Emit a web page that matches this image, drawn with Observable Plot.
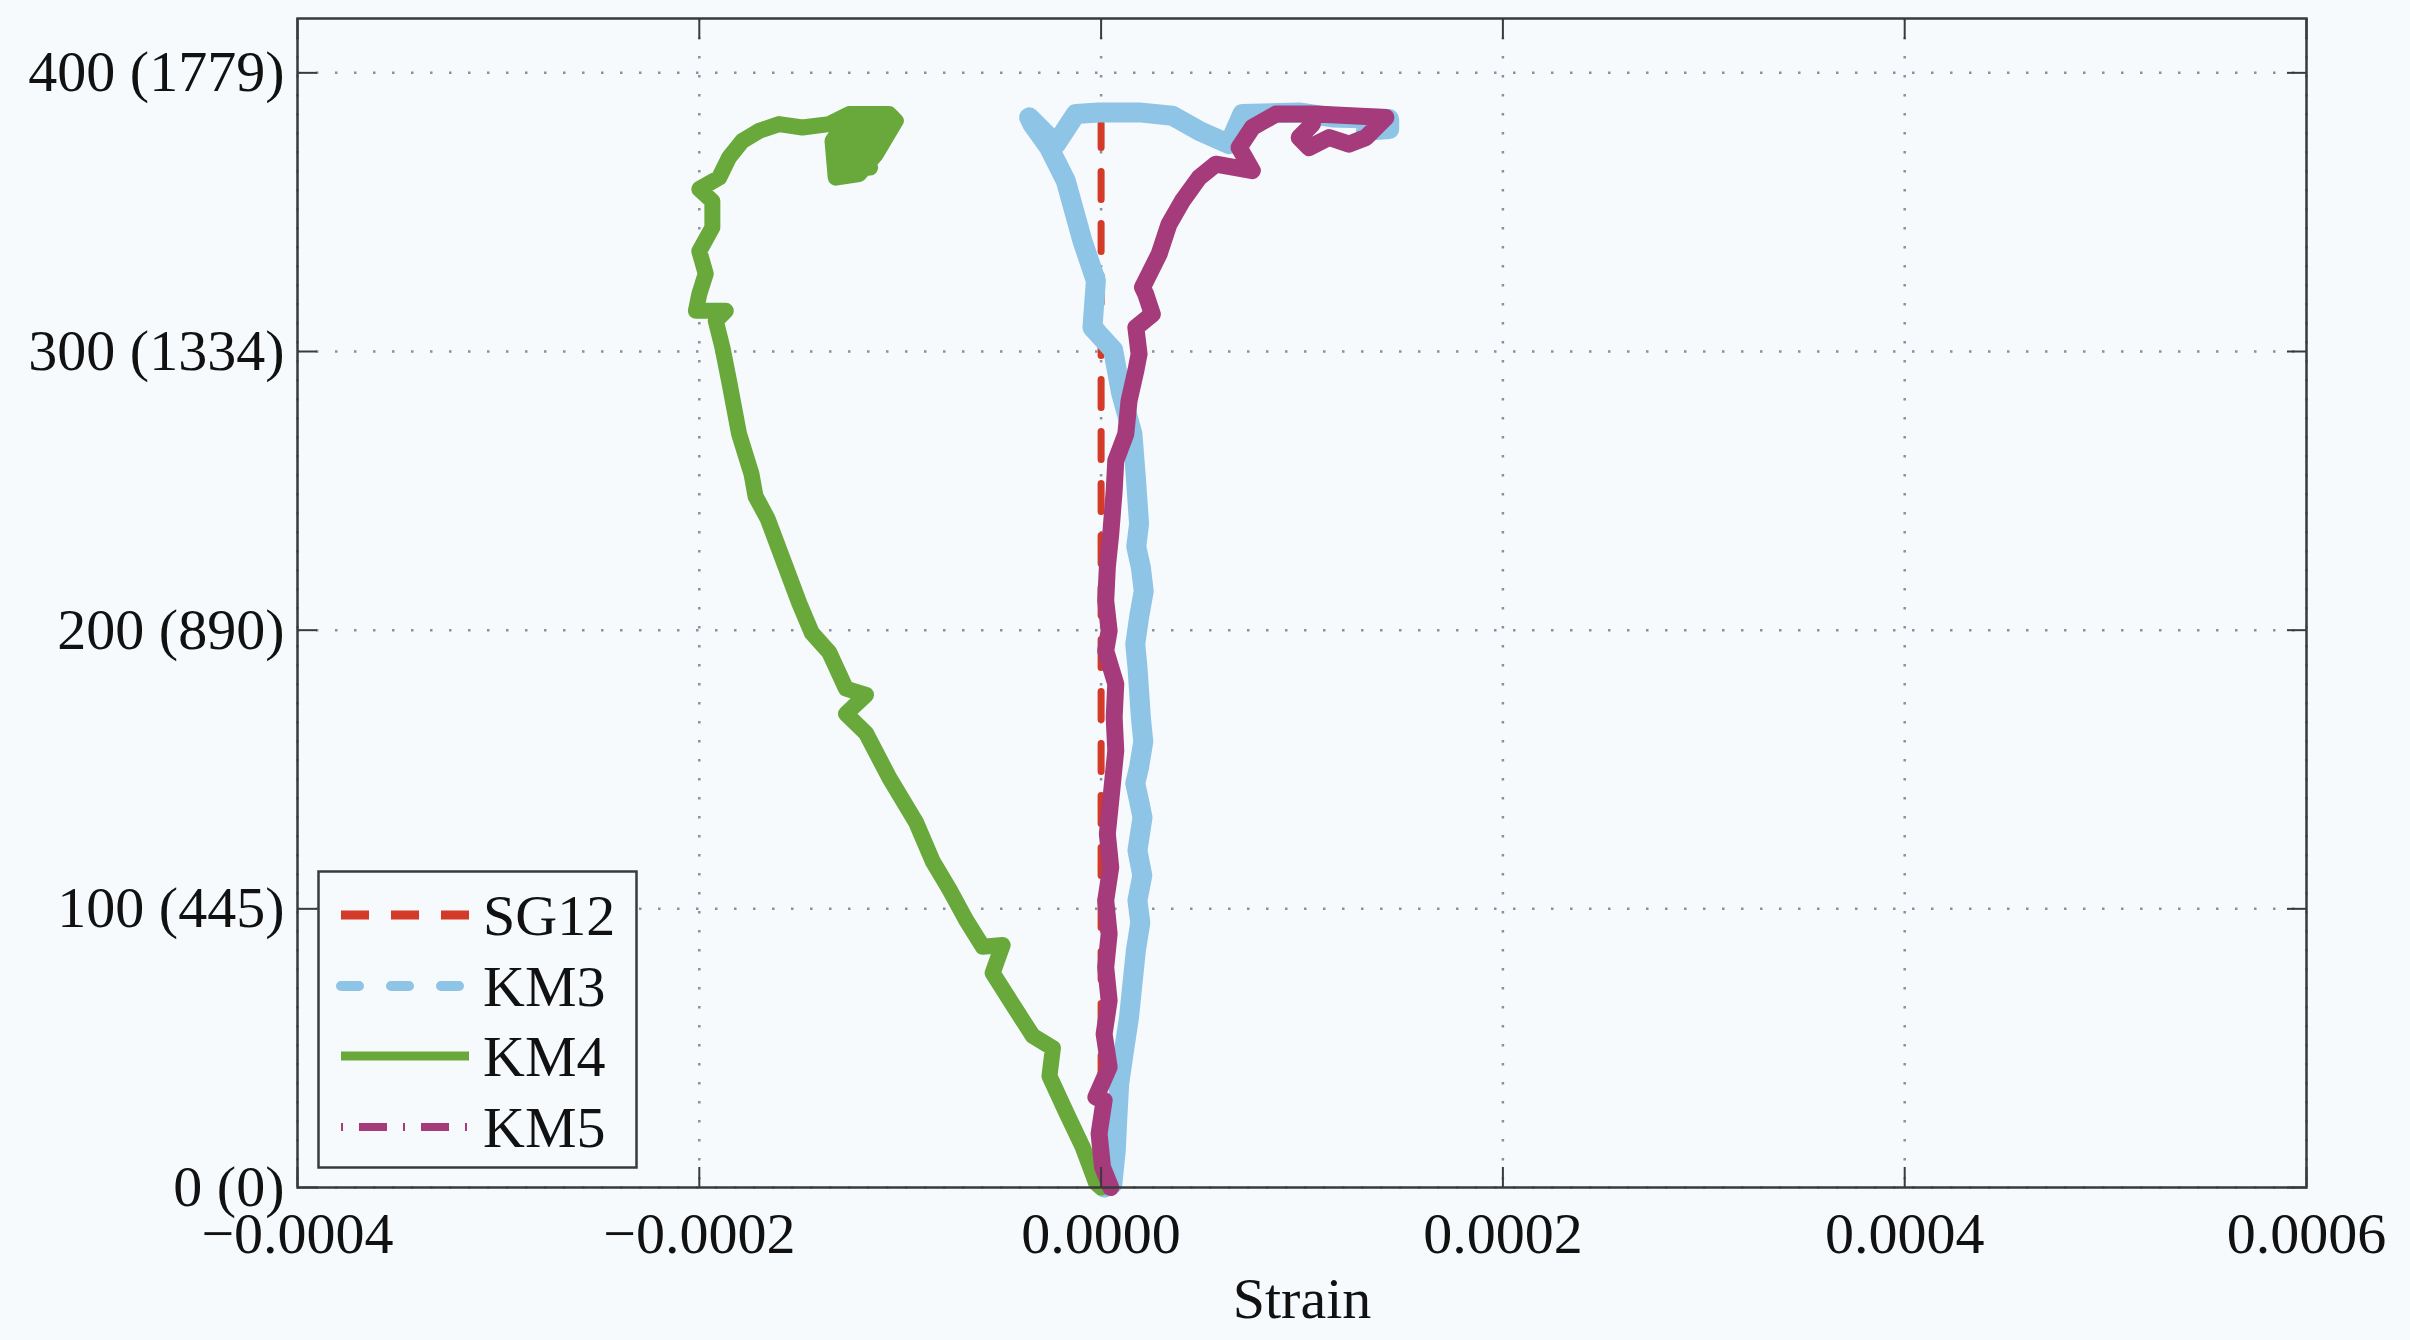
<!DOCTYPE html>
<html>
<head>
<meta charset="utf-8">
<script src="https://cdn.jsdelivr.net/npm/d3@7"></script>
<script src="https://cdn.jsdelivr.net/npm/@observablehq/plot@0.6"></script>
<style>
html, body { margin: 0; padding: 0; background: #f7fafc; }
#chart { position: relative; width: 2410px; height: 1340px; }
#legend { position: absolute; left: 317px; top: 870px; }
</style>
</head>
<body>
<div id="chart"></div>
<script>
// ---- Data (strain, load in kips) ----
const xTicks = [-0.0004, -0.0002, 0, 0.0002, 0.0004, 0.0006];
const yTicks = [0, 100, 200, 300, 400];
const yTickLabels = ["0 (0)", "100 (445)", "200 (890)", "300 (1334)", "400 (1779)"];
const seriesNames = ["SG12", "KM3", "KM4", "KM5"];

const sg12 = [[0, 0], [0, 100], [0, 200], [0, 300], [0, 381.7]];

const km3 = [
  [0.015e-4, 0], [0.056e-4, 1.3], [0.073e-4, 13.3], [0.081e-4, 25.2], [0.09e-4, 37.2],
  [0.114e-4, 49.1], [0.139e-4, 61.1], [0.156e-4, 73.1], [0.173e-4, 85], [0.195e-4, 95],
  [0.181e-4, 103], [0.205e-4, 112], [0.181e-4, 120.9], [0.206e-4, 132.8], [0.189e-4, 138.8],
  [0.17e-4, 145], [0.189e-4, 150.8], [0.21e-4, 160], [0.198e-4, 168.7], [0.181e-4, 186.7],
  [0.17e-4, 195], [0.189e-4, 204.6], [0.212e-4, 214], [0.198e-4, 222.5], [0.175e-4, 230],
  [0.189e-4, 238.1], [0.173e-4, 254.8], [0.156e-4, 270.4], [0.1e-4, 285], [0.06e-4, 300.5],
  [-0.043e-4, 308.6], [-0.026e-4, 325.4], [-0.093e-4, 339.7], [-0.176e-4, 361.3], [-0.259e-4, 373.2],
  [-0.342e-4, 381.6], [-0.358e-4, 384.0], [-0.225e-4, 374.4], [-0.126e-4, 385.2], [-0.01e-4, 385.8],
  [0.189e-4, 385.8], [0.355e-4, 384.6], [0.488e-4, 379.2], [0.637e-4, 374.4], [0.703e-4, 385.2],
  [0.986e-4, 385.8], [1.151e-4, 384.0], [1.434e-4, 383.4], [1.434e-4, 379.8], [1.318e-4, 379.2]
];

const km4 = [
  [0, 0], [-0.025e-4, 1.6], [-0.091e-4, 14.4], [-0.174e-4, 27], [-0.257e-4, 40],
  [-0.24e-4, 50], [-0.34e-4, 54.4], [-0.44e-4, 65.6], [-0.54e-4, 77], [-0.49e-4, 87],
  [-0.589e-4, 86.4], [-0.672e-4, 96], [-0.755e-4, 107], [-0.838e-4, 117], [-0.921e-4, 131],
  [-1.054e-4, 147], [-1.17e-4, 163], [-1.27e-4, 170], [-1.17e-4, 176.8], [-1.27e-4, 179],
  [-1.353e-4, 192], [-1.44e-4, 199], [-1.502e-4, 209.6], [-1.585e-4, 225.6], [-1.66e-4, 240],
  [-1.72e-4, 248], [-1.74e-4, 256], [-1.802e-4, 270.4], [-1.852e-4, 289.5], [-1.885e-4, 301.5],
  [-1.918e-4, 311], [-1.868e-4, 314.6], [-2.017e-4, 314.6], [-2.0e-4, 320.6], [-1.968e-4, 327.9],
  [-2.0e-4, 336], [-1.935e-4, 344.5], [-1.935e-4, 354], [-2.0e-4, 358.3], [-1.901e-4, 362.4],
  [-1.852e-4, 369.6], [-1.785e-4, 375.6], [-1.702e-4, 379.2], [-1.603e-4, 381.6], [-1.487e-4, 380.4],
  [-1.354e-4, 381.6], [-1.254e-4, 385.2], [-1.055e-4, 385.2], [-1.022e-4, 382.8], [-1.121e-4, 370.8],
  [-1.205e-4, 363.7], [-1.321e-4, 362.4], [-1.337e-4, 375.6], [-1.254e-4, 384.0], [-1.30e-4, 368],
  [-1.10e-4, 378], [-1.25e-4, 372], [-1.15e-4, 366], [-1.32e-4, 365], [-1.20e-4, 376],
  [-1.28e-4, 379], [-1.12e-4, 381], [-1.24e-4, 366], [-1.08e-4, 384]
];

const km5 = [
  [0.048e-4, 0], [0.007e-4, 7.3], [-0.01e-4, 19.3], [0.015e-4, 31.2], [-0.026e-4, 32.4],
  [0.04e-4, 43.2], [0.015e-4, 55.1], [0.04e-4, 67.1], [0.023e-4, 79], [0.04e-4, 91],
  [0.023e-4, 103], [0.048e-4, 114.9], [0.031e-4, 126.9], [0.048e-4, 138.8], [0.073e-4, 156.8],
  [0.065e-4, 168.7], [0.073e-4, 180.7], [0.023e-4, 192.6], [0.04e-4, 199.8], [0.023e-4, 210.6],
  [0.031e-4, 222.5], [0.048e-4, 234.5], [0.065e-4, 250], [0.073e-4, 260.8], [0.123e-4, 270.4],
  [0.139e-4, 282.3], [0.173e-4, 293.1], [0.189e-4, 299.1], [0.173e-4, 308.6], [0.255e-4, 313.4],
  [0.222e-4, 320.6], [0.206e-4, 323], [0.289e-4, 335], [0.338e-4, 345.7], [0.405e-4, 354.1],
  [0.488e-4, 362.4], [0.571e-4, 367.2], [0.753e-4, 364.9], [0.687e-4, 373.2], [0.753e-4, 380.4],
  [0.87e-4, 385.2], [1.069e-4, 385.2], [1.418e-4, 384.0], [1.318e-4, 376.8], [1.234e-4, 374.4],
  [1.135e-4, 376.8], [1.035e-4, 373.2], [0.986e-4, 376.8], [1.052e-4, 381.6]
];

// ---- Styles ----
const seriesColors = ["#d33a27", "#8ec4e6", "#69a83b", "#a63b7c"];
const lineWidths = [7, 20, 16, 17];
const fontStack = "'Liberation Serif', 'DejaVu Serif', 'Times New Roman', serif";
const gridStyle = {stroke: "#7f8493", strokeOpacity: 0.9, strokeWidth: 2.5, strokeDasharray: "2.5,16.5"};
const tickStyle = {label: null, tickFormat: () => "", stroke: "#3a3a3a", strokeWidth: 2};

const toRows = (arr) => arr.map(([s, l]) => ({strain: s, load: l}));
const allSeries = [sg12, km3, km4, km5].map(toRows);

const chart = Plot.plot({
  width: 2410,
  height: 1340,
  marginLeft: 297,
  marginRight: 104,
  marginTop: 18,
  marginBottom: 153,
  style: {background: "#f7fafc", fontFamily: fontStack, fontSize: "58px", color: "#111"},
  x: {domain: [-0.0004, 0.0006]},
  y: {domain: [0, 419.5]},
  marks: [
    Plot.gridX(xTicks, gridStyle),
    Plot.gridY(yTicks, gridStyle),
    Plot.line(allSeries[0], {x: "strain", y: "load", stroke: seriesColors[0], strokeWidth: lineWidths[0], strokeDasharray: "28,24"}),
    Plot.line(allSeries[1], {x: "strain", y: "load", stroke: seriesColors[1], strokeWidth: lineWidths[1], strokeLinejoin: "round", strokeLinecap: "round"}),
    Plot.line(allSeries[2], {x: "strain", y: "load", stroke: seriesColors[2], strokeWidth: lineWidths[2], strokeLinejoin: "round", strokeLinecap: "round"}),
    Plot.line(allSeries[3], {x: "strain", y: "load", stroke: seriesColors[3], strokeWidth: lineWidths[3], strokeLinejoin: "round", strokeLinecap: "round"}),
    Plot.frame({stroke: "#3a3a3a", strokeWidth: 2.5}),
    Plot.axisX(xTicks, {anchor: "bottom", tickSize: 20, dy: -20, ...tickStyle}),
    Plot.axisX(xTicks, {anchor: "top", tickSize: 20, dy: 20, ...tickStyle}),
    Plot.axisY(yTicks, {anchor: "left", tickSize: 20, dx: 20, ...tickStyle}),
    Plot.axisY(yTicks, {anchor: "right", tickSize: 20, dx: -20, ...tickStyle}),
    Plot.axisX(xTicks, {anchor: "bottom", tickSize: 0, tickPadding: 24, tickFormat: d3.format(".4f"), label: null, fill: "#111"}),
    Plot.axisY(yTicks, {anchor: "left", tickSize: 0, tickPadding: 13, tickFormat: d => yTickLabels[yTicks.indexOf(d)], label: null, fill: "#111"}),
    Plot.text(["Strain"], {frameAnchor: "bottom", dy: 130, text: d => d, fontSize: 58, fill: "#111"})
  ]
});

const container = document.getElementById("chart");
container.appendChild(chart);

// ---- Legend (inside plot, lower left) ----
const legendDash = ["28,22", "18,32", null, "2,16,28,16"];
const legendCaps = ["butt", "round", "butt", "butt"];
const legendWidths = [9, 10, 9, 8];
const legendRowY = [45, 116, 186, 257];

const lg = d3.create("svg")
  .attr("id", "legend")
  .attr("width", 322)
  .attr("height", 300);
lg.append("rect")
  .attr("x", 1.5).attr("y", 1.5).attr("width", 318).attr("height", 296)
  .attr("fill", "#f7fafc").attr("stroke", "#3a3a3a").attr("stroke-width", 2.5);
seriesNames.forEach((name, i) => {
  const line = lg.append("line")
    .attr("x1", 24).attr("x2", 152)
    .attr("y1", legendRowY[i]).attr("y2", legendRowY[i])
    .attr("stroke", seriesColors[i])
    .attr("stroke-width", legendWidths[i])
    .attr("stroke-linecap", legendCaps[i]);
  if (legendDash[i]) line.attr("stroke-dasharray", legendDash[i]);
  lg.append("text")
    .attr("x", 166).attr("y", legendRowY[i] + 20)
    .attr("font-family", fontStack)
    .attr("font-size", 58)
    .attr("fill", "#111")
    .text(name);
});
container.appendChild(lg.node());
</script>
</body>
</html>
